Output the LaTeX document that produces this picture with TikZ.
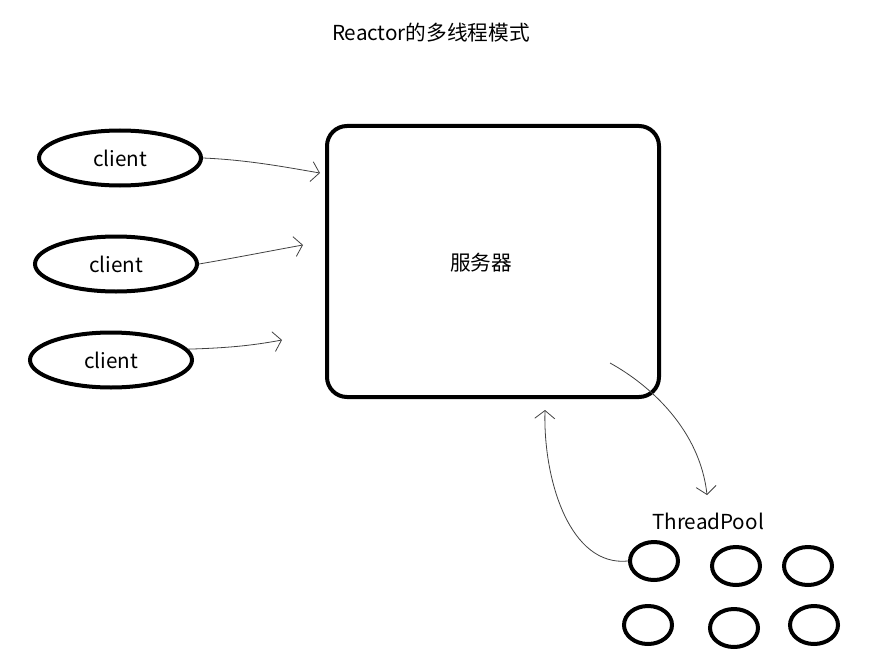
\documentclass[tikz,border=0pt]{standalone}
\usepackage{fontspec}
\setmainfont{Noto Sans CJK SC}
\usetikzlibrary{positioning,shapes.geometric,arrows.meta}
\tikzset{
  client/.style={ellipse,draw,line width=3pt,minimum width=121.5pt,minimum height=41.25pt,inner sep=0pt},
  worker/.style={ellipse,draw,line width=3pt,minimum width=36pt,minimum height=28.5pt,inner sep=0pt},
  server/.style={rectangle,draw,line width=3pt,rounded corners=15pt,minimum width=249pt,minimum height=203.25pt},
  link/.style={->,line width=0.6pt,draw=black!75},
}

\begin{document}
\begin{tikzpicture}[x=0.75pt,y=-0.75pt,>={Straight Barb[length=6pt,width=15pt]},font=\fontsize{15.5}{18}\selectfont]
  \useasboundingbox (0,0) rectangle (884,656);
  \node (title) at (431,33) {Reactor的多线程模式};
  % clients
  \node[client] (c_1) at (120,158) {client};
  \node[client] (c_2) at (116,264) {client};
  \node[client] (c_3) at (111,360) {client};
  % server
  \node[server] (srv) at (493,261.5) {};
  \node (srv_lbl) at (481,263) {服务器};
  % thread pool
  \node (pool) at (708,521) {ThreadPool};
  \node[worker] (t_1) at (654,561) {};
  \node[worker] (t_2) at (736,566) {};
  \node[worker] (t_3) at (808,566) {};
  \node[worker] (t_4) at (648,625) {};
  \node[worker] (t_5) at (734,628) {};
  \node[worker] (t_6) at (814,625) {};
  \coordinate (e_1) at (320,173);
  \coordinate (e_2) at (303,245);
  \coordinate (e_3) at (282,340);
  \coordinate (s_out) at (610,363);
  \coordinate (p_in) at (707,495);
  \coordinate (s_in) at (545,410);
  \draw[link] (c_1.east) .. controls (250,160) and (290,168) .. (e_1);
  \draw[link] (c_2.east) .. controls (240,257) and (275,250) .. (e_2);
  \draw[link] (c_3.8) .. controls (225,348) and (250,346) .. (e_3);
  \draw[link] (s_out) .. controls (650,385) and (700,430) .. (p_in);
  \draw[link] (t_1.west) .. controls (570,567) and (543,480) .. (s_in);
\end{tikzpicture}
\end{document}
